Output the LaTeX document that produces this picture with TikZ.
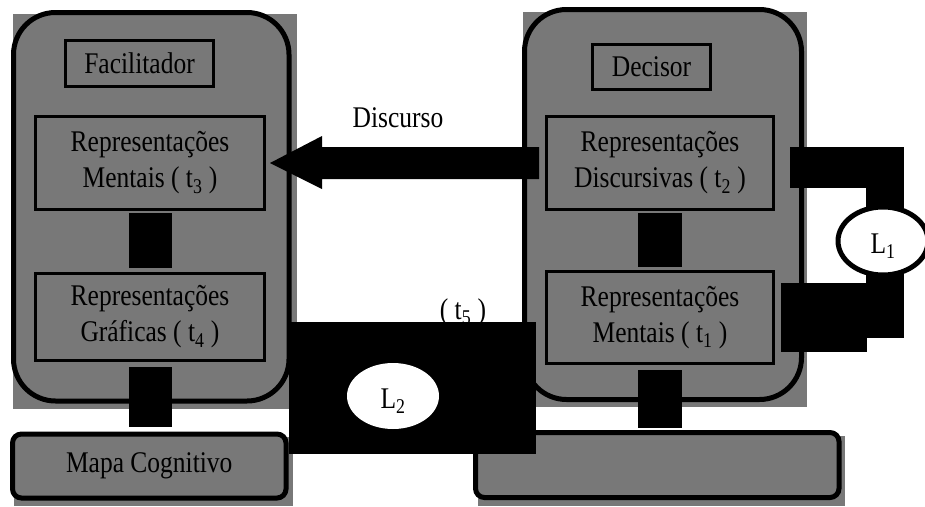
\documentclass[tikz,border=0pt]{standalone}
\usepackage{fontspec}
\setmainfont{Liberation Serif}[FakeStretch=0.85]
\usetikzlibrary{shapes.geometric}
\definecolor{panel}{RGB}{120,120,120}
\pgfdeclarelayer{base}
\pgfdeclarelayer{links}
\pgfsetlayers{base,links,main}
% loop label, baseline set a little below the centre of its ellipse
\newcommand{\loopname}[1]{\raisebox{-12pt}[0pt][0pt]{\makebox[0pt]{L\textsubscript{#1}}}}
\begin{document}
\begin{tikzpicture}[x=1pt,y=-1pt,
  every node/.style={font=\fontsize{30}{36}\selectfont, text=black},
  actor/.style={draw=black, line width=5pt, fill=panel, rounded corners=42pt, inner sep=0pt},
  innerbox/.style={draw=black, line width=3pt, fill=panel, align=center, inner sep=0pt},
  flatbox/.style={draw=black, line width=5pt, fill=panel, rounded corners=9pt, inner sep=0pt, align=center},
  bar/.style={draw=black, line width=43pt},
  block/.style={fill=black},
  lens/.style={ellipse, fill=white, inner sep=0pt}
]
\useasboundingbox (0,0) rectangle (925,506);

\begin{pgfonlayer}{base}
  % grey plates behind the two actors and the two lower boxes
  \fill[panel] (13,14) rectangle (297,409);
  \fill[panel] (523,12) rectangle (807,407);
  \fill[panel] (14,437) rectangle (293,506);
  \fill[panel] (478,436) rectangle (845,506);

  % actors
  \node[actor, minimum width=275.5pt, minimum height=388.5pt] (fac) at (151.25,206.75) {};
  \node[actor, minimum width=277pt, minimum height=390pt] (dec) at (663,204.5) {};

  % facilitator side
  \node[innerbox, minimum width=148pt, minimum height=46pt] (facil) at (139.5,63.5) {Facilitador};
  \node[innerbox, minimum width=229pt, minimum height=93pt] (t3) at (150,163) {Representações\\Mentais ( t\textsubscript{3} )};
  \node[innerbox, minimum width=229pt, minimum height=87pt] (t4) at (150,317) {Representações\\Gráficas ( t\textsubscript{4} )};
  \node[flatbox, minimum width=273.5pt, minimum height=64pt] (mapa) at (149.25,466) {Mapa Cognitivo};

  % decision-maker side
  \node[innerbox, minimum width=118pt, minimum height=45pt] (decisor) at (651.5,67) {Decisor};
  \node[innerbox, minimum width=227pt, minimum height=93pt] (t2) at (660,163) {Representações\\Discursivas ( t\textsubscript{2} )};
  \node[innerbox, minimum width=227pt, minimum height=92pt] (t1) at (660,317.5) {Representações\\Mentais ( t\textsubscript{1} )};
  \node[flatbox, minimum width=363.5pt, minimum height=65pt] (outp) at (657.25,465) {};

  % labels
  \node[anchor=base] (disc) at (398,127) {Discurso};
  \node[anchor=base] (t5) at (463,319) {( t\textsubscript{5} )};
\end{pgfonlayer}

% loops
\node[lens, draw=black, line width=5pt, minimum width=90pt, minimum height=68pt] (L1) at (883,241) {\loopname{1}};
\node[lens, minimum width=92pt, minimum height=66pt] (L2) at (393,396) {\loopname{2}};

\begin{pgfonlayer}{links}
  % vertical links inside the actors
  \draw[bar, shorten <=2pt, shorten >=4pt] (t3.south) -- (t4.north);
  \draw[bar, shorten <=5pt, shorten >=5pt] (t4.south) -- (t4.south |- mapa.north);
  \draw[bar, line width=44pt, shorten <=2pt, shorten >=3pt] (t2.south) -- (t1.north);
  \draw[bar, line width=44pt, shorten <=5pt, shorten >=2pt] (t1.south) -- (t1.south |- outp.north);

  % discourse arrow
  \fill ([shift={(4,0)}]t3.east) -- ([shift={(56,-27)}]t3.east) -- ([shift={(56,-16)}]t3.east)
    -- ([shift={(-6,-16)}]t2.west) -- ([shift={(-6,16)}]t2.west)
    -- ([shift={(56,16)}]t3.east) -- ([shift={(56,26)}]t3.east) -- cycle;

  % loop L1
  \fill[block] ([shift={(15,-16)}]t2.east) rectangle ([shift={(129,25)}]t2.east);
  \fill[block] ([shift={(-17,-18)}]L1.north) rectangle ([shift={(21,6)}]L1.north);
  \fill[block] ([shift={(6,-34.5)}]t1.east) rectangle ([shift={(92,34.5)}]t1.east);
  \fill[block] ([shift={(-17,-4)}]L1.south) rectangle ([shift={(21,60.5)}]L1.south);

  % loop L2
  \fill[block] ([shift={(-104,-74)}]L2.center) rectangle ([shift={(143,58)}]L2.center);
\end{pgfonlayer}
\end{tikzpicture}
\end{document}
